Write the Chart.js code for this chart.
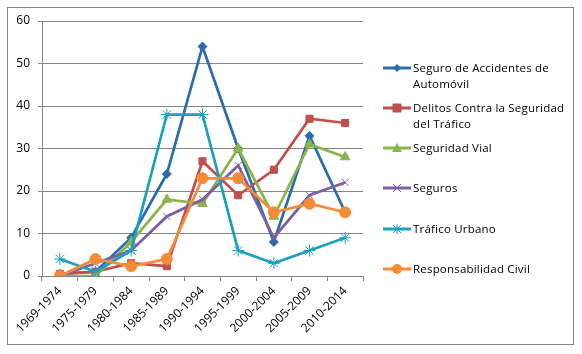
<!DOCTYPE html>
<html lang="es">
<head>
<meta charset="UTF-8" />
<title>Publicaciones por periodo</title>
<script src="https://cdnjs.cloudflare.com/ajax/libs/Chart.js/4.4.1/chart.umd.min.js"></script>
<style>
  body { margin: 0; background: #fff; }
  #wrap { position: relative; width: 582px; height: 354px; }
  #frame { position: absolute; left: 7px; top: 7px; width: 565px; height: 336px; border: 1px solid #868686; }
  #chart { position: absolute; left: 0; top: 0; }
  #legend { position: absolute; left: 383px; top: 0; font: 11.5px "Open Sans", sans-serif; letter-spacing: 0.2px; color: #000; }
  .item { position: absolute; left: 0; width: 190px; }
  .item svg { position: absolute; left: 0; top: 0; }
  .item span { position: absolute; left: 30px; top: -3px; line-height: 16px; white-space: nowrap; }
</style>
</head>
<body>
<div id="wrap">
  <div id="frame"></div>
  <canvas id="chart" width="582" height="354"></canvas>
  <div id="legend"></div>
</div>
<script>
var periods = ["1969-1974", "1975-1979", "1980-1984", "1985-1989", "1990-1994",
               "1995-1999", "2000-2004", "2005-2009", "2010-2014"];

var seguroAccidentes = [0.5, 1, 9, 24, 54, 30, 8, 33, 15];
var delitosTrafico   = [0.5, 1, 3, 2.3, 27, 19, 25, 37, 36];
var seguridadVial    = [0, 0, 8, 18, 17, 30, 14, 31, 28];
var seguros          = [0, 3, 6, 14, 18, 26, 9, 19, 22];
var traficoUrbano    = [4, 1, 6, 38, 38, 6, 3, 6, 9];
var respCivil        = [0, 4, 2.3, 4, 23, 23, 15, 17, 15];

var seriesNames = ["Seguro de Accidentes de\nAutomóvil", "Delitos Contra la Seguridad\ndel Tráfico",
                   "Seguridad Vial", "Seguros", "Tráfico Urbano", "Responsabilidad Civil"];
var seriesData = [seguroAccidentes, delitosTrafico, seguridadVial, seguros, traficoUrbano, respCivil];
var colors = ["#2A6DAE", "#C0504D", "#8DB34C", "#7E5F9F", "#1CA0BD", "#F68B36"];
var markers = ["rectRot", "rect", "triangle", "crossRot", "star", "circle"];
var radii = [4.5, 5, 5.5, 5, 6, 5.5];

var datasets = seriesData.map(function (d, i) {
  return {
    label: seriesNames[i].replace("\n", " "),
    data: d,
    borderColor: colors[i],
    backgroundColor: colors[i],
    pointBorderColor: colors[i],
    pointBackgroundColor: colors[i],
    pointStyle: markers[i],
    pointRadius: radii[i],
    pointBorderWidth: 1,
    borderWidth: 2.75,
    tension: 0,
    order: seriesData.length - i
  };
});

new Chart("chart", {
  type: "line",
  data: { labels: periods, datasets: datasets },
  options: {
    responsive: false,
    animation: false,
    layout: { padding: { left: 0, top: 21, right: 219, bottom: 0 } },
    plugins: { legend: { display: false }, tooltip: { enabled: false } },
    scales: {
      x: {
        offset: true,
        afterFit: function (s) { s.height = 78; },
        grid: { offset: true, drawOnChartArea: false, drawTicks: true, tickLength: 5, color: "#868686" },
        border: { display: true, color: "#868686" },
        ticks: { minRotation: 45, maxRotation: 45, color: "#000", padding: 3,
                 font: { family: "Open Sans", size: 12 } }
      },
      y: {
        min: 0, max: 60,
        afterFit: function (s) { s.width = 42; },
        grid: { color: "#868686", tickLength: 4 },
        border: { display: true, color: "#868686" },
        ticks: { stepSize: 10, color: "#000", padding: 8,
                 font: { family: "Open Sans", size: 12 } }
      }
    }
  }
});

// legend on the right, Excel style with wrapped names
var legendY = [68, 108, 148, 188, 229, 269];
function markerSvg(i) {
  var c = colors[i];
  switch (markers[i]) {
    case "rectRot": return '<polygon points="14,1 18,5 14,9 10,5" fill="' + c + '"/>';
    case "rect": return '<rect x="9.5" y="0.5" width="9" height="9" fill="' + c + '"/>';
    case "triangle": return '<polygon points="14,0 19,9 9,9" fill="' + c + '"/>';
    case "crossRot": return '<path d="M10,1 L18,9 M18,1 L10,9" stroke="' + c + '" stroke-width="1"/>';
    case "star": return '<path d="M10,1 L18,9 M18,1 L10,9 M14,0 L14,10 M9,5 L19,5" stroke="' + c + '" stroke-width="1"/>';
    default: return '<circle cx="14" cy="5" r="5" fill="' + c + '"/>';
  }
}
var legend = document.getElementById("legend");
seriesNames.forEach(function (name, i) {
  var item = document.createElement("div");
  item.className = "item";
  item.style.top = (legendY[i] - 5) + "px";
  item.innerHTML = '<svg width="30" height="11"><line x1="0" y1="5" x2="28" y2="5" stroke="' + colors[i] +
    '" stroke-width="3"/>' + markerSvg(i) + '</svg><span>' + name.replace("\n", "<br>") + '</span>';
  legend.appendChild(item);
});
</script>
</body>
</html>
